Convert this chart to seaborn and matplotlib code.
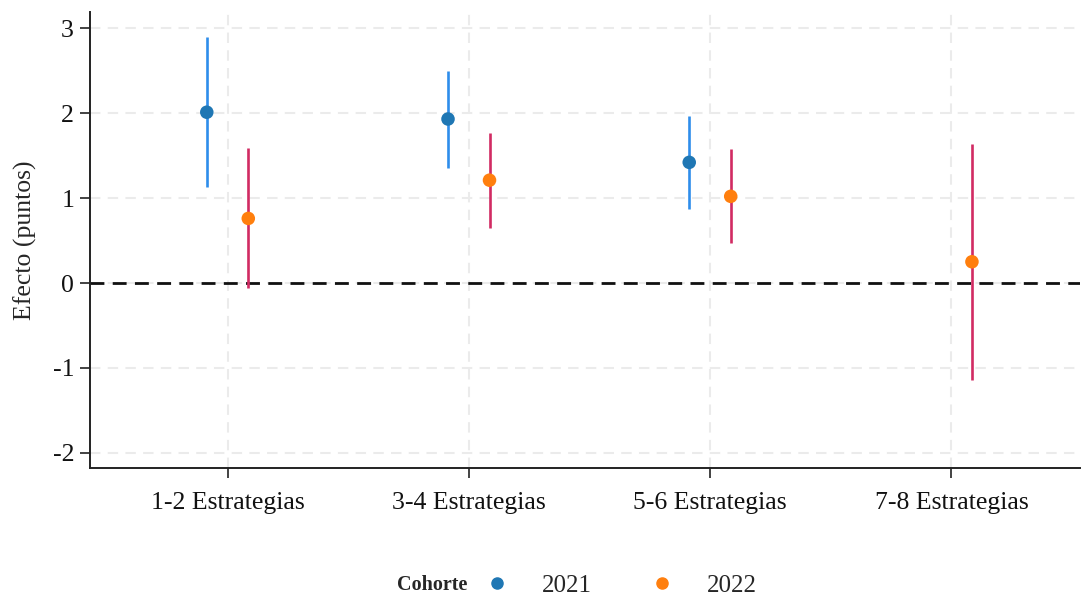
import matplotlib
matplotlib.use("Agg")
import matplotlib.pyplot as plt
from matplotlib.lines import Line2D
import pandas as pd
import seaborn as sns

GROUPS = ["1-2 Estrategias", "3-4 Estrategias", "5-6 Estrategias", "7-8 Estrategias"]
COHORT = ["2021", "2021", "2021", "2022", "2022", "2022", "2022"]
GROUP_IDX = [0, 1, 2, 0, 1, 2, 3]
ESTIMATE = [2.01, 1.93, 1.42, 0.76, 1.21, 1.02, 0.25]
CI_LOW = [1.13, 1.35, 0.87, -0.06, 0.65, 0.47, -1.14]
CI_HIGH = [2.89, 2.49, 1.96, 1.59, 1.76, 1.58, 1.64]

POINT_COLORS = {"2021": "#1f77b4", "2022": "#ff7f0e"}
BAR_COLORS = {"2021": "#2E8DEB", "2022": "#D12B63"}
DODGE = {"2021": -0.087, "2022": 0.085}

df = pd.DataFrame({"cohort": COHORT, "group": GROUP_IDX, "est": ESTIMATE, "lo": CI_LOW, "hi": CI_HIGH})
df["x"] = df["group"] + df["cohort"].map(DODGE)

sns.set_theme(style="white")
plt.rcParams["font.family"] = ["Liberation Serif", "DejaVu Serif"]

fig = plt.figure(figsize=(10.81, 5.98), dpi=100)
ax = fig.add_axes([0.0833, 0.217, 0.916, 0.763])

ax.grid(True, color="#EBEBEB", linestyle=(0, (5, 3.5)), linewidth=1.5)
ax.set_axisbelow(True)
ax.axhline(0, color="#111111", linestyle=(0, (5, 3)), linewidth=2.0, zorder=1)

for c in ["2021", "2022"]:
    sub = df[df["cohort"] == c]
    ax.vlines(sub["x"], sub["lo"], sub["hi"], color=BAR_COLORS[c], linewidth=1.9, zorder=2)

sns.scatterplot(data=df, x="x", y="est", hue="cohort", palette=POINT_COLORS, s=95,
                edgecolor="none", legend=False, ax=ax, zorder=3)

ax.set_xlim(-0.571, 3.534)
ax.set_ylim(-2.18, 3.19)
ax.set_xticks(range(len(GROUPS)))
ax.set_xticklabels(GROUPS)
ax.set_yticks([-2, -1, 0, 1, 2, 3])
ax.set_yticklabels(["-2", "-1", "0", "1", "2", "3"])
ax.set_xlabel("")
ax.set_ylabel("Efecto (puntos)", fontsize=18.5, labelpad=11)
ax.tick_params(axis="both", labelsize=18.5, length=7, width=1.2, color="#222222", labelcolor="#111111",
               direction="out", bottom=True, left=True, pad=4.5)
ax.tick_params(axis="x", pad=10)
for side in ["top", "right"]:
    ax.spines[side].set_visible(False)
for side in ["left", "bottom"]:
    ax.spines[side].set_color("#222222")
    ax.spines[side].set_linewidth(1.4)

fig.text(0.367, 0.021, "Cohorte", fontsize=14.5, fontweight="bold", ha="left", va="center")
handles = [Line2D([0], [0], marker="o", linestyle="none", markersize=8, color=POINT_COLORS[c]) for c in ["2021", "2022"]]
fig.legend(handles, ["2021", "2022"], loc="center", bbox_to_anchor=(0.574, 0.021), ncol=2, frameon=False,
           fontsize=18, handlelength=1.0, handletextpad=1.3, columnspacing=2.3)

fig.savefig("out.png", dpi=100)
